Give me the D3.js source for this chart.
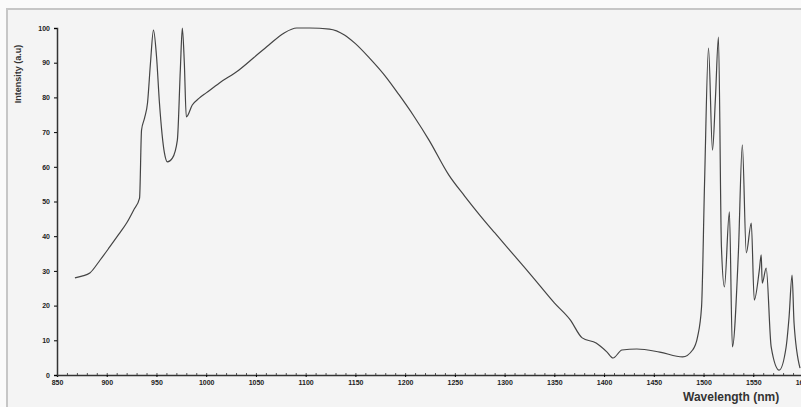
<!DOCTYPE html>
<html>
<head>
<meta charset="utf-8">
<script src="https://cdn.jsdelivr.net/npm/d3@7"></script>
<style>
  body { margin: 0; background: #fafafa; }
  svg { display: block; }
  .tick text { font-family: "Liberation Sans", Arial, sans-serif; font-weight: bold; }
</style>
</head>
<body>
<div id="chart"></div>
<script>
// spectrum values
const wavelength = [868, 875, 883, 893, 903, 912, 920, 927, 933, 935, 938, 941, 944, 947, 950, 953, 958, 961, 966, 971, 974, 976, 978, 980, 986, 993, 1000, 1013, 1033, 1048, 1063, 1078, 1091, 1104, 1124, 1139, 1150, 1164, 1179, 1194, 1209, 1224, 1244, 1260, 1275, 1290, 1305, 1320, 1335, 1350, 1366, 1378, 1392, 1403, 1409, 1418, 1433, 1456, 1479, 1489, 1494, 1498, 1501, 1505, 1509, 1512, 1515, 1518, 1521, 1526, 1529, 1535, 1539, 1543, 1548, 1551, 1556, 1558, 1559, 1563, 1568, 1576, 1583, 1586, 1589, 1591, 1597]
const intensity = [28, 28.5, 29.4, 33, 36.9, 40.5, 43.8, 47.5, 51, 70.6, 74, 78.4, 90, 99.4, 92, 78.4, 64, 61.4, 62.5, 67.7, 88, 100, 90, 74.4, 77.8, 79.8, 81.3, 84.1, 87.9, 91.5, 95.1, 98.5, 100, 100, 99.7, 98, 95.5, 91.4, 86.5, 80.7, 74.5, 67.7, 57.6, 51.5, 46.1, 41, 36, 31, 25.9, 20.8, 15.9, 10.7, 9.2, 6.6, 4.9, 7.2, 7.5, 6.6, 5.2, 7.2, 11, 19.6, 55, 94.2, 64.8, 80, 97.4, 36.9, 25.4, 47, 8.1, 35, 66.3, 35.2, 43.8, 21.6, 30, 34.6, 26.5, 30.8, 8.1, 1.4, 8, 16.7, 28.8, 15, 2]

const xTicks = d3.range(850, 1601, 50)
const yTicks = d3.range(0, 101, 10)

const width = 801,
  height = 407

let svg = d3.select('#chart')
  .append('svg')
  .attr('width', width)
  .attr('height', height)

// frame
svg.append('rect')
  .attr('x', 7)
  .attr('y', 9)
  .attr('width', 800)
  .attr('height', 405)
  .attr('fill', '#f4f4f4')
  .attr('stroke', '#c6c6c6')
  .attr('stroke-width', 2)

const x = d3.scaleLinear()
  .domain([850, 1600])
  .range([57, 803])

const y = d3.scaleLinear()
  .domain([0, 100])
  .range([375, 28])

// minor ticks on x
svg.append('g')
  .attr('transform', 'translate(0,375)')
  .call(d3.axisTop(x).tickValues(d3.range(850, 1601, 10)).tickSize(2).tickFormat(''))
  .call(g => g.select('.domain').remove())
  .selectAll('line').attr('stroke', '#555')

svg.append('g')
  .attr('transform', 'translate(0,375)')
  .call(d3.axisBottom(x).tickValues(xTicks).tickSize(2).tickPadding(3).tickFormat(d3.format('d')))
  .call(g => g.selectAll('text').style('font-size', '7px').attr('fill', '#222'))
  .call(g => g.select('.domain').attr('stroke', '#333').attr('stroke-width', 1.5))

svg.append('g')
  .attr('transform', 'translate(57,0)')
  .call(d3.axisLeft(y).tickValues(yTicks).tickSize(3).tickPadding(4))
  .call(g => g.selectAll('text').style('font-size', '7px').attr('fill', '#222'))
  .call(g => g.select('.domain').attr('stroke', '#333').attr('stroke-width', 1.5))

const line = d3.line()
  .x((d, i) => x(wavelength[i]))
  .y(d => y(d))
  .curve(d3.curveMonotoneX)

svg.append('path')
  .datum(intensity)
  .attr('fill', 'none')
  .attr('stroke', '#444')
  .attr('stroke-width', 1.2)
  .attr('d', line)

svg.append('text')
  .attr('transform', 'translate(21,74) rotate(-90)')
  .attr('text-anchor', 'middle')
  .style('font-family', '"Liberation Sans", Arial, sans-serif')
  .style('font-weight', 'bold')
  .style('font-size', '9px')
  .attr('fill', '#333')
  .text('Intensity (a.u)')

svg.append('text')
  .attr('x', 683)
  .attr('y', 401)
  .style('font-family', '"Liberation Sans", Arial, sans-serif')
  .style('font-weight', 'bold')
  .style('font-size', '12px')
  .attr('fill', '#333')
  .text('Wavelength (nm)')
</script>
</body>
</html>
